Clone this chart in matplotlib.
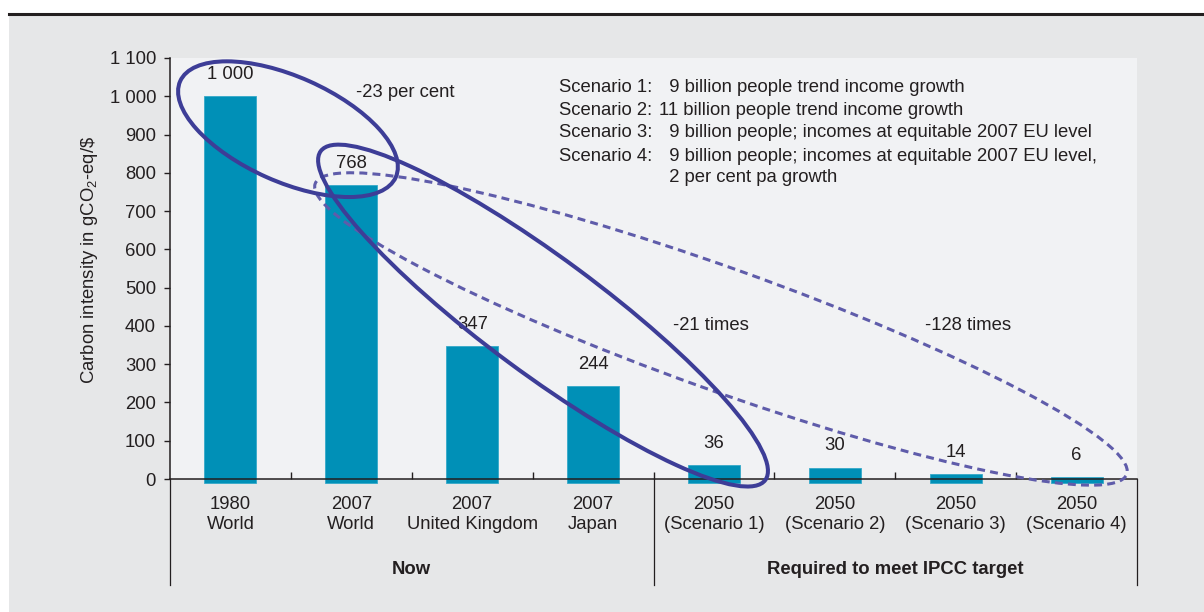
import numpy as np
import matplotlib
matplotlib.use("Agg")
import matplotlib.pyplot as plt
from matplotlib.patches import Ellipse, Rectangle
from matplotlib.lines import Line2D
from matplotlib.transforms import ScaledTranslation, blended_transform_factory
from matplotlib.ticker import FixedLocator, FuncFormatter

FS = 13.3
plt.rcParams['font.family'] = ['Liberation Sans', 'DejaVu Sans']
plt.rcParams['font.size'] = FS
plt.rcParams['mathtext.fontset'] = 'custom'
plt.rcParams['mathtext.rm'] = 'Liberation Sans'
plt.rcParams['mathtext.it'] = 'Liberation Sans:italic'

# --- data -------------------------------------------------------------
years = ['1980', '2007', '2007', '2007', '2050', '2050', '2050', '2050']
places = ['World', 'World', 'United Kingdom', 'Japan',
          '(Scenario 1)', '(Scenario 2)', '(Scenario 3)', '(Scenario 4)']
intensity = [1000, 768, 347, 244, 36, 30, 14, 6]
groups = ['Now', 'Required to meet IPCC target']
group_sizes = [4, 4]
y_ticks = list(range(0, 1101, 100))

scenario_keys = ['Scenario 1:', 'Scenario 2:', 'Scenario 3:', 'Scenario 4:', '']
scenario_notes = ['\u20079 billion people trend income growth',
                  '11 billion people trend income growth',
                  '\u20079 billion people; incomes at equitable 2007 EU level',
                  '\u20079 billion people; incomes at equitable 2007 EU level,',
                  '\u20072 per cent pa growth']

TEXT = '#231f20'
BAR = '#0090b7'
BAR_EDGE = '#35a9c9'
RING = '#3d3d97'
RING_DASH = '#5f5caa'

W, H = 1204, 612
fig = plt.figure(figsize=(W / 100, H / 100), dpi=100)
fig.patch.set_facecolor('white')
fig.add_artist(Rectangle((9 / W, 0), 1, (H - 15) / H, transform=fig.transFigure,
                         facecolor='#e6e7e8', edgecolor='none', zorder=-5))
fig.add_artist(Line2D([9 / W, 1], [(H - 14) / H] * 2, transform=fig.transFigure,
                      color=TEXT, lw=2.2))

ax = fig.add_axes([170 / W, (H - 479) / H, 967 / W, 421 / H])
ax.set_facecolor('#f1f2f4')

x = np.arange(len(intensity))
vals = np.array(intensity, dtype=float)

# bars run a few units under the zero line
overhang = 10
ax.bar(x, vals + overhang, bottom=-overhang, width=0.43, color=BAR,
       edgecolor=BAR_EDGE, linewidth=0.6, zorder=2, clip_on=False)

for xi, v in zip(x, intensity):
    ax.annotate(f'{v:,}'.replace(',', ' '), (xi, v), xytext=(0, 15.5),
                textcoords='offset points', ha='center', va='center', color=TEXT)

ax.set_xlim(-0.5, len(intensity) - 0.5)
ax.set_ylim(0, 1100)

for side in ['top', 'right']:
    ax.spines[side].set_visible(False)
for side in ['left', 'bottom']:
    ax.spines[side].set_color(TEXT)
    ax.spines[side].set_linewidth(1.1)

ax.yaxis.set_major_locator(FixedLocator(y_ticks))
ax.yaxis.set_major_formatter(FuncFormatter(lambda v, p: f'{v:,.0f}'.replace(',', ' ')))
ax.tick_params(axis='y', direction='out', length=4.5, width=1, color=TEXT,
               pad=5.5, labelcolor=TEXT, labelsize=FS)

# category separators as inward ticks, names on minor ticks at the bar centres
ax.set_xticks(np.arange(0.5, len(intensity) - 0.5, 1.0))
ax.set_xticklabels([])
ax.set_xticks(x, minor=True)
ax.set_xticklabels([f'{a}\n{b}' for a, b in zip(years, places)], minor=True)
ax.tick_params(axis='x', which='major', direction='in', length=5, width=1, color=TEXT)
ax.tick_params(axis='x', which='minor', length=0, pad=12.5, labelcolor=TEXT, labelsize=FS)

ax.set_ylabel(r'Carbon intensity in gCO$_2$-eq/\$', color=TEXT, fontsize=FS)
ax.yaxis.set_label_coords(-70 / 967, 0.521)

# group brackets under the axis
blend = blended_transform_factory(ax.transData, ax.transAxes)
edges = np.concatenate([[0], np.cumsum(group_sizes)]) - 0.5
for xb in edges:
    ax.plot([xb, xb], [0, -0.252], transform=blend, color=TEXT, lw=0.9, clip_on=False)
for g, lo, hi in zip(groups, edges[:-1], edges[1:]):
    ax.text((lo + hi) / 2, -0.216, g, transform=blend, ha='center', va='center',
            fontweight='bold', color=TEXT, fontsize=FS)

# reduction rings: centre in data units, size in pixels
rings = [((0.476, 914), 236, 105, -24, '-', RING, 2.9),
         ((2.586, 427), 553, 116, -36.5, '-', RING, 2.9),
         ((4.058, 392), 862, 122, -19.7, (0, (2.6, 1.7)), RING_DASH, 2.2)]
for (cx, cy), w, h, ang, ls, col, lw in rings[::-1]:
    e = Ellipse((0, 0), w, h, angle=ang, fill=False, edgecolor=col, linestyle=ls,
                linewidth=lw, transform=ScaledTranslation(cx, cy, ax.transData),
                clip_on=False, zorder=4 if ls == '-' else 3)
    ax.add_artist(e)

ax.text(1.04, 1011, '-23 per cent', ha='left', va='center', color=TEXT)
ax.text(3.66, 400, '-21 times', ha='left', va='center', color=TEXT)
ax.text(5.745, 400, '-128 times', ha='left', va='center', color=TEXT)

note_y = [1024, 964, 905, 842, 789]
for key, note, yy in zip(scenario_keys, scenario_notes, note_y):
    ax.text(2.717, yy, key, ha='left', va='center', color=TEXT)
    ax.text(3.546, yy, note, ha='left', va='center', color=TEXT)

fig.savefig('out.png', dpi=100, facecolor=fig.get_facecolor())
